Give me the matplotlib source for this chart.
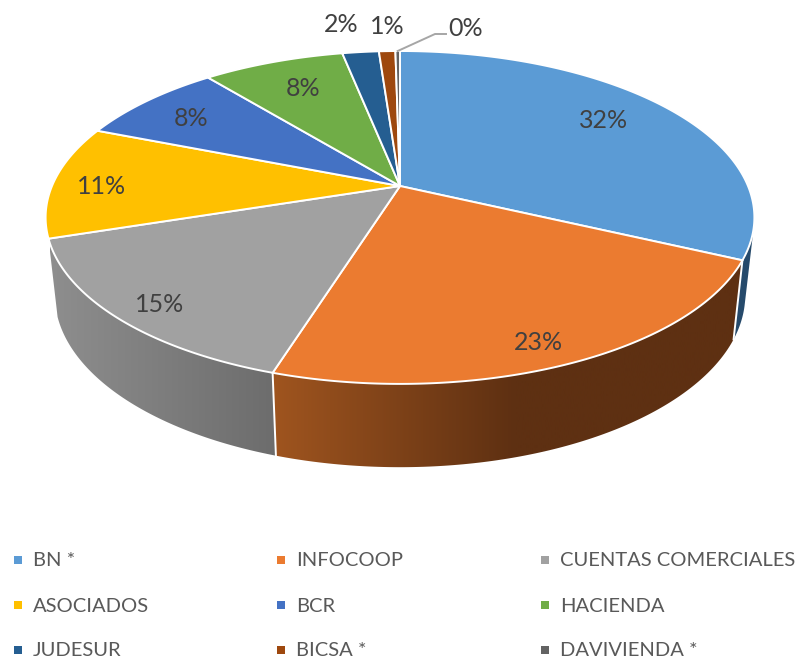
import numpy as np
import matplotlib
matplotlib.use("Agg")
import matplotlib.pyplot as plt
from matplotlib.patches import Polygon, Rectangle

plt.rcParams["font.family"] = ["Lato", "DejaVu Sans"]

categories = ["BN *", "INFOCOOP", "CUENTAS COMERCIALES", "ASOCIADOS", "BCR",
              "HACIENDA", "JUDESUR", "BICSA *", "DAVIVIENDA *"]
values = [32.0, 22.85, 15.15, 11.0, 8.1, 7.75, 2.0, 0.9, 0.25]
colors = ["#5B9BD5", "#EB7B30", "#A1A1A1", "#FFC000", "#4472C4",
          "#70AD47", "#255E91", "#9E480E", "#636363"]

label_xy = [(604, 120), (538, 342), (160, 305), (102, 186), (191, 118),
            (303, 88), (341, 25), (387, 27), (466, 29)]
legend_x = [33, 296, 560]
legend_y = [561, 606, 651]


# perspective view of a circle, theta clockwise from the top
def top_ring(theta):
    u, v = np.sin(theta), np.cos(theta)
    d = 1 + 0.189 * v
    return 400 + 348 * u / d, 186 - 160.5 * v / d


def bottom_ring(theta):
    u, v = np.sin(theta), np.cos(theta)
    d = 1 + 0.189 * v
    return 400 + 339 * u / d, 262.5 - 166 * v / d


fig = plt.figure(figsize=(7.97, 6.61), dpi=100)
ax = fig.add_axes([0, 0, 1, 1])

edges = np.cumsum([0] + values) / sum(values) * 2 * np.pi
vis_start, vis_end = np.radians(104), np.radians(258)

# side wall, gradient colours run left to right
side_grad = {
    0: (["#264A6B", "#264A6B"], 0, 797),
    1: (["#A0551F", "#5E3012", "#5E3012"], 270, 760),
    2: (["#8E8E8E", "#6C6C6C"], 50, 280),
}
for i, (stops, x0, x1) in side_grad.items():
    a0, a1 = max(edges[i], vis_start), min(edges[i + 1], vis_end)
    th = np.linspace(a0, a1, 120)
    tx, ty = top_ring(th)
    bx, by = bottom_ring(th[::-1])
    pts = np.column_stack([np.r_[tx, bx], np.r_[ty, by]])
    cmap = matplotlib.colors.LinearSegmentedColormap.from_list("s%d" % i, stops)
    im = ax.imshow(np.linspace(0, 1, 256).reshape(1, -1), cmap=cmap, aspect="auto",
                   extent=(x0, x1, 661, 0), zorder=1, interpolation="bilinear")
    poly = Polygon(pts, closed=True, fc="none", ec="none", zorder=1)
    ax.add_patch(poly)
    im.set_clip_path(poly)
    # seam between two side pieces
    if i < 2:
        sx, sy = top_ring(edges[i + 1])
        ex, ey = bottom_ring(edges[i + 1])
        ax.plot([sx, ex], [sy, ey], color="white", lw=1.4, zorder=2)

# top faces
for i in range(len(values)):
    th = np.linspace(edges[i], edges[i + 1], 200)
    x, y = top_ring(th)
    pts = np.column_stack([np.r_[400, x], np.r_[186, y]])
    ax.add_patch(Polygon(pts, closed=True, fc=colors[i], ec="white", lw=1.4,
                         joinstyle="round", zorder=3))

# percent labels
for i, v in enumerate(values):
    ax.text(label_xy[i][0], label_xy[i][1], "%d%%" % round(v), fontsize=18,
            color="#404040", ha="center", va="center", zorder=5)

# leader line for the smallest slice
lx, ly = top_ring(edges[-2] + (edges[-1] - edges[-2]) / 2)
ax.plot([lx, 435, 446], [ly, 34, 34], color="#A6A6A6", lw=1.4, zorder=4)

# legend
for i, name in enumerate(categories):
    x = legend_x[i % 3]
    y = legend_y[i // 3]
    ax.add_patch(Rectangle((x - 19, y - 5), 8, 8, fc=colors[i], ec="none"))
    ax.text(x, y, name, fontsize=14.5, color="#595959", ha="left", va="center")

ax.set_xlim(0, 797)
ax.set_ylim(661, 0)
ax.axis("off")
fig.savefig("out.png", dpi=100)
